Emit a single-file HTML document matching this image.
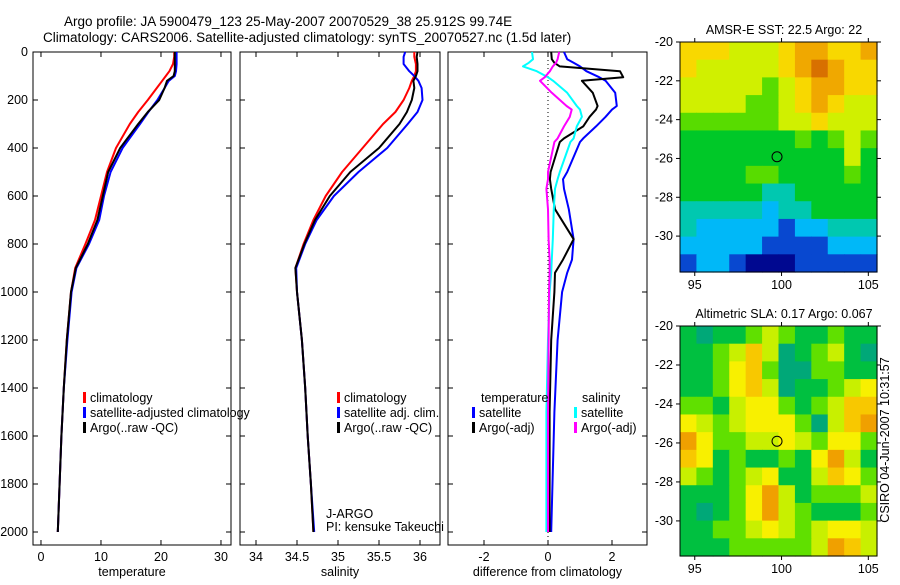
<!DOCTYPE html>
<html><head><meta charset="utf-8"><style>
body{margin:0;background:#fff}
svg{font-family:"Liberation Sans",sans-serif;font-size:12.5px}
</style></head><body>
<svg id="c" width="900" height="580" xmlns="http://www.w3.org/2000/svg">
<rect width="900" height="580" fill="#fff"/>
<text x="64" y="26" font-size="13.5">Argo profile: JA 5900479_123 25-May-2007 20070529_38 25.912S 99.74E</text>
<text x="43" y="42" font-size="13.5">Climatology: CARS2006. Satellite-adjusted climatology: synTS_20070527.nc (1.5d later)</text>
<text x="889" y="440" font-size="12.5" transform="rotate(-90 889 440)" text-anchor="middle">CSIRO 04-Jun-2007 10:31:57</text>
</svg>
<script>
const depths=[0,20,50,80,100,120,150,200,250,300,400,500,600,700,800,900,1000,1200,1400,1600,1800,2000];
const tClim=[22.2,22.2,22.0,21.4,20.8,20.2,19.3,17.8,16.2,14.8,12.5,11.0,10.0,9.0,7.4,5.7,5.0,4.3,3.8,3.4,3.1,2.8];
const tSat=[22.6,22.6,22.6,22.5,22.3,21.3,20.6,19.4,17.9,16.5,13.6,11.6,10.5,9.7,8.0,5.9,5.1,4.4,3.8,3.4,3.1,2.8];
const tArgo=[22.3,22.3,22.3,22.3,22.1,21.0,20.6,19.7,17.8,16.2,13.2,11.2,10.3,9.4,7.8,5.8,5.0,4.3,3.8,3.4,3.1,2.8];
const sClim=[35.93,35.93,35.95,35.95,35.93,35.9,35.87,35.8,35.7,35.55,35.3,35.05,34.85,34.7,34.58,34.48,34.5,34.56,34.6,34.63,34.67,34.7];
const sSat=[35.82,35.8,35.8,35.87,35.93,35.98,36.02,36.03,35.97,35.85,35.6,35.25,34.95,34.74,34.6,34.49,34.5,34.56,34.6,34.63,34.67,34.71];
const sArgo=[35.97,35.96,35.97,35.97,35.95,35.92,35.93,35.9,35.84,35.75,35.5,35.15,34.9,34.72,34.59,34.48,34.5,34.56,34.6,34.63,34.67,34.7];
const dDepth=[0,30,45,60,80,105,120,170,225,240,270,310,360,375,500,530,570,655,780,865,920,1000,1200,1500,2000];
const dTSat=[0.5,0.6,0.8,1.0,1.2,1.6,1.8,2.1,2.15,2.0,1.8,1.5,1.1,1.0,0.6,0.47,0.5,0.65,0.8,0.75,0.6,0.44,0.3,0.2,0.1];
const dTArgo=[0.1,0.12,0.2,0.37,2.25,2.35,1.06,1.4,1.55,1.5,1.3,1.1,0.5,0.37,0.08,0.06,0.1,0.22,0.8,0.47,0.22,0.2,0.1,0.05,0.05];
const dSSat=[-0.5,-0.47,-0.6,-0.78,-0.35,0.0,0.16,0.6,0.9,1.0,1.06,0.9,0.8,0.7,0.37,0.3,0.22,0.18,0.15,0.12,0.1,0.05,0.0,-0.05,-0.05];
const dSArgo=[0.35,0.3,0.25,0.15,0.06,-0.1,-0.25,0.12,0.58,0.74,0.68,0.5,0.3,0.2,0.0,0.0,-0.05,0.0,0.02,0.05,0.05,0.03,0.02,0.0,0.0];
const depthTicks=[0,200,400,600,800,1000,1200,1400,1600,1800,2000];
const tTicks=[0,10,20,30];
const sTicks=[34,34.5,35,35.5,36];
const dTicks=[-2,0,2];
const sstGrid=["777666788778","766666789877","666665678877","666655678766","555555667666","444444454565","444444444464","444455444454","444443344444","333332334444","322222122333","222221111222","122100011111"];
const slaGrid=["101123211211","112353012310","112452002211","112453011234","221344212355","432344420356","642233432442","541211214631","321234113542","111246312223","101246321112","112234323443","111222223653"];
const sstColors=["#000890","#0848d0","#00b8f8","#00c8b0","#00c828","#58dc00","#d0f000","#f8d800","#f0a800","#d87000"];
const slaColors=["#00a878","#00c040","#60e000","#c8f000","#f8f000","#f8c800","#f0a000"];
const yTop=52, yScale=0.24;
const NS="http://www.w3.org/2000/svg", svg=document.getElementById('c');
function el(t,a,p){const e=document.createElementNS(NS,t);for(const k in a)e.setAttribute(k,a[k]);(p||svg).appendChild(e);return e;}
function txt(x,y,s,anchor,p){const e=el('text',{x:x,y:y,'text-anchor':anchor||'start'},p);e.textContent=s;return e;}
const yD=d=>yTop+d*yScale;
function panel(name,x0,x1,xmin,xmax,ticks,label,showY){
  const g=el('g',{});
  
  
  const xf=v=>x0+(v-xmin)/(xmax-xmin)*(x1-x0);
  el('rect',{x:x0,y:yTop,width:x1-x0,height:545-yTop,fill:'none',stroke:'#000','stroke-width':1},g);
  ticks.forEach(t=>{const x=xf(t);
    el('line',{x1:x,x2:x,y1:545,y2:540,stroke:'#000'},g);
    el('line',{x1:x,x2:x,y1:yTop,y2:yTop+5,stroke:'#000'},g);
    const l=txt(x,561,String(t),'middle',g);
    
    });
  depthTicks.forEach(d=>{const y=yD(d);
    el('line',{x1:x0,x2:x0+5,y1:y,y2:y,stroke:'#000'},g);
    el('line',{x1:x1,x2:x1-5,y1:y,y2:y,stroke:'#000'},g);
    if(showY){const l=txt(28,y+4,String(d),'end',g);
      
      }});
  const xl=txt((x0+x1)/2,576,label,'middle',g);
  
  
  return {g,xf};
}
function line(P,ds,vs,color,name,w){
  const pts=ds.map((d,i)=>P.xf(vs[i]).toFixed(1)+','+yD(d).toFixed(1)).join(' ');
  const e=el('polyline',{points:pts,fill:'none',stroke:color,'stroke-width':w||2,'stroke-linejoin':'round'},P.g);
  
  
}
function legend(P,x,y,color,label,name){
  el('rect',{x:x,y:y-10,width:3,height:11,fill:color},P.g);
  const t=txt(x+7,y,label,'start',P.g);
  
  
}
const P1=panel('temperature',33,231,-1.33,31.67,tTicks,'temperature',true);
line(P1,depths,tClim,'#f00','temperature-climatology-line');
line(P1,depths,tSat,'#00f','temperature-satellite-line');
line(P1,depths,tArgo,'#000','temperature-argo-line');
legend(P1,83,402,'#f00','climatology','legend-entry-climatology');
legend(P1,83,417,'#00f','satellite-adjusted climatology','legend-entry-satellite');
legend(P1,83,432,'#000','Argo(..raw -QC)','legend-entry-argo');
const P2=panel('salinity',240,440,33.805,36.244,sTicks,'salinity',false);
line(P2,depths,sClim,'#f00','salinity-climatology-line');
line(P2,depths,sSat,'#00f','salinity-satellite-line');
line(P2,depths,sArgo,'#000','salinity-argo-line');
legend(P2,337,402,'#f00','climatology','legend-entry-climatology');
legend(P2,337,417,'#00f','satellite adj. clim.','legend-entry-satellite');
legend(P2,337,432,'#000','Argo(..raw -QC)','legend-entry-argo');
let t1=txt(326,518,'J-ARGO','start',P2.g);
let t2=txt(326,531,'PI: kensuke Takeuchi','start',P2.g);
const P3=panel('difference',448,647,-3.125,3.094,dTicks,'difference from climatology',false);
el('line',{x1:P3.xf(0),x2:P3.xf(0),y1:yTop,y2:545,stroke:'#000','stroke-dasharray':'1,3'},P3.g);
line(P3,dDepth,dTSat,'#00f','diff-temperature-satellite-line');
line(P3,dDepth,dTArgo,'#000','diff-temperature-argo-line');
line(P3,dDepth,dSSat,'#0ff','diff-salinity-satellite-line');
line(P3,dDepth,dSArgo,'#f0f','diff-salinity-argo-line');
let h1=txt(481,402,'temperature','start',P3.g);
let h2=txt(582,402,'salinity','start',P3.g);
legend(P3,472,417,'#00f','satellite','legend-entry-temp-satellite');
legend(P3,472,432,'#000','Argo(-adj)','legend-entry-temp-argo');
legend(P3,574,417,'#0ff','satellite','legend-entry-sal-satellite');
legend(P3,574,432,'#f0f','Argo(-adj)','legend-entry-sal-argo');
function map(name,title,top,bot,grid,colors,latTicks,bottomLat){
  const g=el('g',{});
  
  
  const x0=680,x1=877,lon0=94.15,lon1=105.5;
  const xf=v=>x0+(v-lon0)/(lon1-lon0)*(x1-x0);
  const yf=v=>top+(-20-v)/(-20-bottomLat)*(bot-top);
  const rows=grid.length,cols=grid[0].length,cw=(x1-x0)/cols,ch=(bot-top)/rows;
  grid.forEach((r,i)=>{for(let j=0;j<cols;j++){
    const c=el('rect',{x:(x0+j*cw).toFixed(2),y:(top+i*ch).toFixed(2),width:(cw+0.6).toFixed(2),height:(ch+0.6).toFixed(2),fill:colors[+r[j]]},g);
    
    }});
  el('rect',{x:x0,y:top,width:x1-x0,height:bot-top,fill:'none',stroke:'#000'},g);
  [95,100,105].forEach(v=>{const x=xf(v);
    el('line',{x1:x,x2:x,y1:bot,y2:bot+4,stroke:'#000'},g);
    el('line',{x1:x,x2:x,y1:top,y2:top-4,stroke:'#000'},g);
    const l=txt(x,bot+17,String(v),'middle',g);});
  latTicks.forEach(v=>{const y=yf(v);
    el('line',{x1:x0,x2:x0-4,y1:y,y2:y,stroke:'#000'},g);
    el('line',{x1:x1,x2:x1+4,y1:y,y2:y,stroke:'#000'},g);
    const l=txt(673,y+4,String(v),'end',g);});
  const tt=txt(784,top-8,title,'middle',g);
  const m=el('circle',{cx:xf(99.74),cy:yf(-25.912),r:5,fill:'none',stroke:'#000','stroke-width':1},g);
  
  
}
map('sst-map','AMSR-E SST: 22.5 Argo: 22',42,272,sstGrid,sstColors,[-20,-22,-24,-26,-28,-30],-31.85);
map('sla-map','Altimetric SLA: 0.17 Argo: 0.067',326,556,slaGrid,slaColors,[-20,-22,-24,-26,-28,-30],-31.8);
</script>
</body></html>
